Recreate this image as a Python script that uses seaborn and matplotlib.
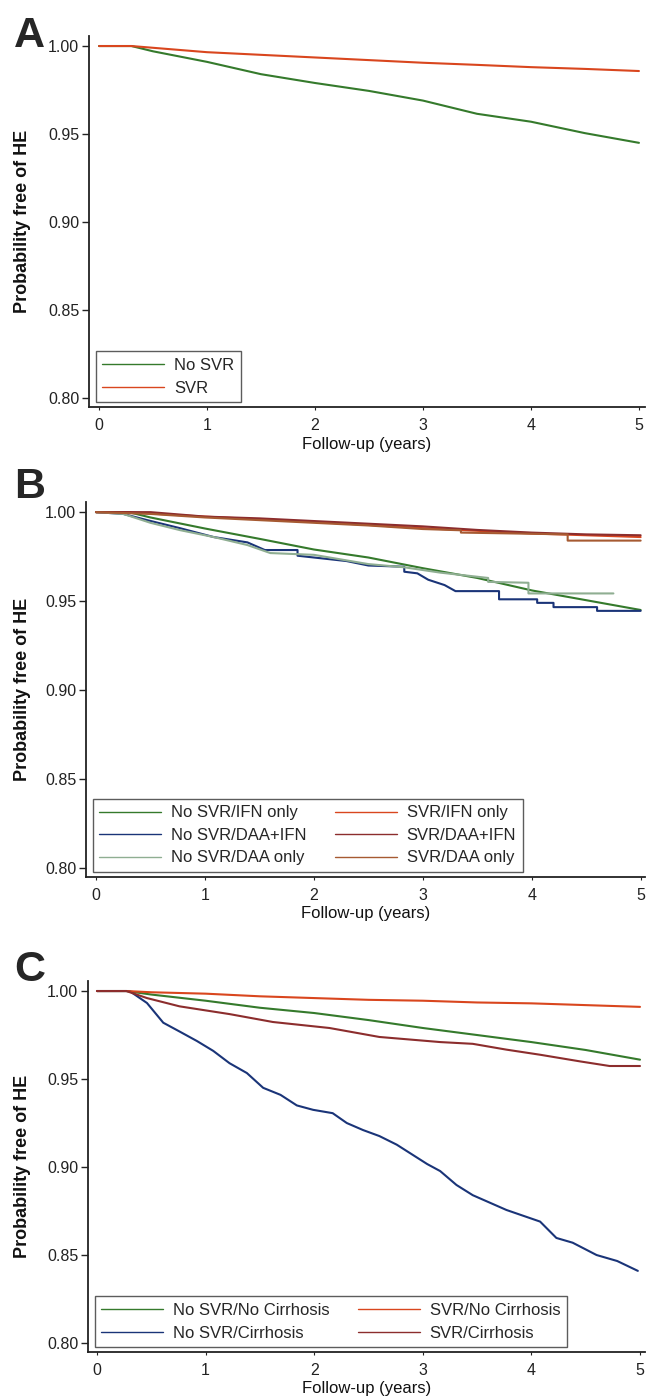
import numpy as np
import pandas as pd
import matplotlib
matplotlib.use("Agg")
import matplotlib.pyplot as plt
import seaborn as sns

# ---- values (years, probability free of HE) ----
# panel A
a_time = [0, 0.3, 0.5, 1.0, 1.5, 2.0, 2.5, 3.0, 3.5, 4.0, 4.5, 5.0]
a_no_svr = [1.0, 1.0, 0.997, 0.991, 0.984, 0.979, 0.9745, 0.969, 0.9615, 0.957, 0.9505, 0.945]
a_svr = [1.0, 1.0, 0.999, 0.9965, 0.995, 0.9935, 0.992, 0.9905, 0.9893, 0.988, 0.987, 0.9858]

# panel B (repeated times = vertical drops of the KM steps)
b_time = [0, 0.3, 0.5, 1.0, 1.5, 2.0, 2.5, 3.0, 3.5, 4.0, 4.5, 5.0]
b_nosvr_ifn = [1.0, 1.0, 0.997, 0.9908, 0.985, 0.979, 0.9745, 0.9685, 0.963, 0.956, 0.9505, 0.945]
b_svr_ifn = [1.0, 1.0, 0.9992, 0.9975, 0.996, 0.9945, 0.9928, 0.991, 0.9895, 0.988, 0.987, 0.986]
b_svr_daaifn = [1.0, 1.0, 1.0, 0.9975, 0.9965, 0.995, 0.9935, 0.992, 0.990, 0.9885, 0.9875, 0.987]
b_nosvr_daaifn_t = [0, 0.25, 0.47, 0.77, 1.08, 1.39, 1.55, 1.85, 1.85, 2.3, 2.5, 2.83, 2.83, 2.95,
                    3.05, 3.2, 3.3, 3.7, 3.7, 4.05, 4.05, 4.2, 4.2, 4.6, 4.6, 5.0]
b_nosvr_daaifn = [1.0, 0.999, 0.9955, 0.991, 0.986, 0.983, 0.9787, 0.9787, 0.9755, 0.9725, 0.970,
                  0.9693, 0.9665, 0.9656, 0.962, 0.959, 0.9556, 0.9556, 0.951, 0.951, 0.949, 0.949,
                  0.9466, 0.9466, 0.9445, 0.9445]
b_nosvr_daa_t = [0, 0.25, 0.5, 0.77, 1.08, 1.39, 1.6, 2.0, 2.5, 2.83, 3.16, 3.6, 3.6, 3.97, 3.97,
                 4.75]
b_nosvr_daa = [1.0, 0.999, 0.994, 0.9899, 0.986, 0.9815, 0.977, 0.976, 0.9708, 0.969, 0.966, 0.963,
               0.9608, 0.9603, 0.9543, 0.9543]
b_svr_daa_t = [0, 0.5, 1.0, 1.5, 2.0, 2.5, 3.0, 3.35, 3.35, 4.33, 4.33, 5.0]
b_svr_daa = [1.0, 0.999, 0.997, 0.9955, 0.994, 0.9925, 0.9905, 0.9898, 0.9885, 0.9875, 0.984, 0.984]

# panel C
c_time = [0, 0.27, 0.5, 1.0, 1.5, 2.0, 2.5, 3.0, 3.5, 4.0, 4.5, 5.0]
c_nosvr_nocirr = [1.0, 1.0, 0.998, 0.9945, 0.9905, 0.9875, 0.9835, 0.979, 0.975, 0.971, 0.9665, 0.961]
c_svr_nocirr = [1.0, 1.0, 0.9993, 0.9985, 0.997, 0.996, 0.995, 0.9945, 0.9935, 0.993, 0.992, 0.991]
c_svr_cirr_t = [0, 0.27, 0.46, 0.76, 1.0, 1.22, 1.62, 2.14, 2.6, 3.16, 3.46, 3.77, 4.08, 4.45,
                4.72, 5.0]
c_svr_cirr = [1.0, 1.0, 0.996, 0.9913, 0.989, 0.9869, 0.9824, 0.979, 0.9739, 0.971, 0.970, 0.9667,
              0.9638, 0.960, 0.9574, 0.9574]
c_nosvr_cirr_t = [0, 0.3, 0.46, 0.61, 0.76, 0.92, 1.07, 1.22, 1.38, 1.53, 1.69, 1.84, 1.99, 2.17,
                  2.3, 2.45, 2.6, 2.76, 3.04, 3.16, 3.31, 3.46, 3.77, 4.08, 4.23, 4.38, 4.6, 4.79,
                  4.98]
c_nosvr_cirr = [1.0, 1.0, 0.9932, 0.982, 0.977, 0.9716, 0.966, 0.959, 0.9534, 0.945, 0.941, 0.935,
                0.9325, 0.9306, 0.925, 0.921, 0.9176, 0.9127, 0.9017, 0.8977, 0.8898, 0.884,
                0.8756, 0.869, 0.8597, 0.857, 0.850, 0.8466, 0.841]

GREEN = "#357a2c"
RED = "#d9461e"
NAVY = "#1a3478"
LIGHTGREEN = "#8fae92"
DARKRED = "#8c2d2d"
BROWN = "#a65a32"


def curve(name, t, p):
    return pd.DataFrame({"time": t, "prob": p, "group": name})


# axes box in pixels (left, top, right, bottom), x limits, curves, legend columns
panels = [
    ("A", [89, 36, 645, 407], (-0.093, 5.056), [
        (curve("No SVR", a_time, a_no_svr), GREEN),
        (curve("SVR", a_time, a_svr), RED),
    ], 1),
    ("B", [86, 502, 645, 877], (-0.092, 5.04), [
        (curve("No SVR/IFN only", b_time, b_nosvr_ifn), GREEN),
        (curve("No SVR/DAA+IFN", b_nosvr_daaifn_t, b_nosvr_daaifn), NAVY),
        (curve("No SVR/DAA only", b_nosvr_daa_t, b_nosvr_daa), LIGHTGREEN),
        (curve("SVR/IFN only", b_time, b_svr_ifn), RED),
        (curve("SVR/DAA+IFN", b_time, b_svr_daaifn), DARKRED),
        (curve("SVR/DAA only", b_svr_daa_t, b_svr_daa), BROWN),
    ], 2),
    ("C", [88, 981, 645, 1352], (-0.083, 5.046), [
        (curve("No SVR/No Cirrhosis", c_time, c_nosvr_nocirr), GREEN),
        (curve("No SVR/Cirrhosis", c_nosvr_cirr_t, c_nosvr_cirr), NAVY),
        (curve("SVR/No Cirrhosis", c_time, c_svr_nocirr), RED),
        (curve("SVR/Cirrhosis", c_svr_cirr_t, c_svr_cirr), DARKRED),
    ], 2),
]

sns.set_style("ticks")
plt.rcParams["font.family"] = ["Liberation Sans", "DejaVu Sans"]

W, H = 647, 1400
fig = plt.figure(figsize=(W / 100, H / 100), dpi=100)

letter_base = {"A": 47, "B": 498, "C": 981}

for letter, (l, t, r, b), xlim, curves, ncol in panels:
    ax = fig.add_axes([l / W, 1 - b / H, (r - l) / W, (b - t) / H])
    for df, col in curves:
        sns.lineplot(data=df, x="time", y="prob", color=col, lw=1.5, estimator=None,
                     sort=False, label=df["group"].iloc[0], ax=ax)

    ax.set_xlim(*xlim)
    ax.set_ylim(0.7949, 1.0057)
    ax.set_xticks([0, 1, 2, 3, 4, 5])
    ax.set_yticks([0.80, 0.85, 0.90, 0.95, 1.00])
    ax.set_yticklabels(["0.80", "0.85", "0.90", "0.95", "1.00"])
    ax.tick_params(axis="y", length=5, width=1, pad=2, labelsize=11.5, colors="#222222")
    ax.tick_params(axis="x", length=2, width=0.8, pad=6, labelsize=11.5, colors="#222222")
    for s in ["top", "right"]:
        ax.spines[s].set_visible(False)
    for s in ["left", "bottom"]:
        ax.spines[s].set_linewidth(1.3)
        ax.spines[s].set_color("#222222")

    ax.set_xlabel("Follow-up (years)", fontsize=12, color="#111111")
    ax.set_ylabel("Probability free of HE", fontsize=13, fontweight="bold", color="#111111")
    ax.yaxis.set_label_coords((31 - l) / (r - l), 0.5)
    xl_top = {"A": 437, "B": 906, "C": 1381}[letter]
    ax.xaxis.set_label_coords(0.5, -(xl_top - b) / (b - t))

    handles, labels = ax.get_legend_handles_labels()
    leg = ax.legend(handles, labels, loc="lower left", bbox_to_anchor=(0.012, 0.013),
                    borderaxespad=0, ncol=ncol, fontsize=12, frameon=True, fancybox=False,
                    edgecolor="#333333", handlelength=3.7, handletextpad=0.6,
                    columnspacing=1.7, labelspacing=0.45, borderpad=0.4)
    leg.get_frame().set_linewidth(1.0)
    for ln in leg.get_lines():
        ln.set_linewidth(1.0)

    fig.text(14 / W, 1 - letter_base[letter] / H, letter, fontsize=31, fontweight="bold",
             ha="left", va="baseline")

fig.savefig("out.png", dpi=100)
